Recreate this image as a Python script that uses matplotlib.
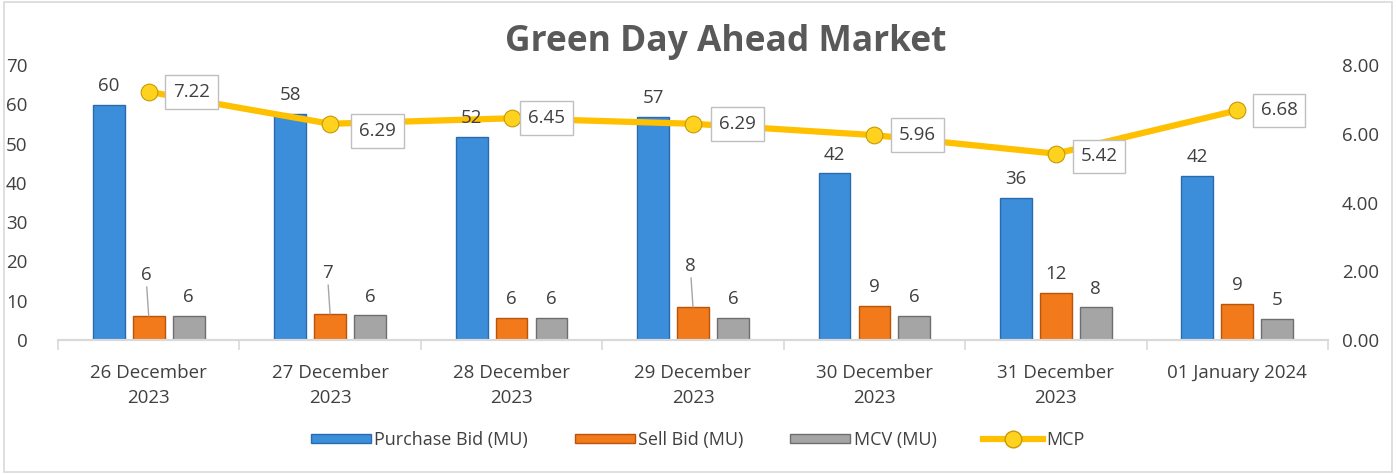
import matplotlib
matplotlib.use("Agg")
import matplotlib.pyplot as plt
import numpy as np
from matplotlib.patches import Rectangle
from matplotlib.lines import Line2D

plt.rcParams['font.family'] = ['Open Sans', 'DejaVu Sans']

categories = ["26 December\n2023", "27 December\n2023", "28 December\n2023", "29 December\n2023",
              "30 December\n2023", "31 December\n2023", "01 January 2024"]
purchase = [59.8, 57.6, 51.8, 56.8, 42.4, 36.1, 41.7]
sell = [6.1, 6.6, 5.6, 8.4, 8.7, 12.0, 9.2]
mcv = [6.1, 6.3, 5.7, 5.6, 6.2, 8.3, 5.4]
mcp = [7.22, 6.29, 6.45, 6.29, 5.96, 5.42, 6.68]
purchase_lbl = ["60", "58", "52", "57", "42", "36", "42"]
sell_lbl = ["6", "7", "6", "8", "9", "12", "9"]
mcv_lbl = ["6", "6", "6", "6", "6", "8", "5"]
mcp_lbl = ["7.22", "6.29", "6.45", "6.29", "5.96", "5.42", "6.68"]
sell_leader = [True, True, False, True, False, False, False]
mcp_off = [(31, 0), (34, -5), (25, 0), (32, 0), (31, 0), (31, -2), (30, 0)]

TXT = "#404040"
fig = plt.figure(figsize=(13.96, 4.74), dpi=100)
ax = fig.add_axes([58/1396, 1-340/474, (1328-58)/1396, (340-65)/474])
ax2 = ax.twinx()

x = np.arange(len(categories))
w = 0.175
gap = 0.22
blue, orange, gray = "#3C8DDA", "#F27A1A", "#A5A5A5"
ax.bar(x - gap, purchase, w, color=blue, edgecolor="#2A6BAE", linewidth=1.0, zorder=2)
ax.bar(x, sell, w, color=orange, edgecolor="#B8540C", linewidth=1.0, zorder=2)
ax.bar(x + gap, mcv, w, color=gray, edgecolor="#6E6E6E", linewidth=1.0, zorder=2)

ax2.plot(x, mcp, color="#FFC000", lw=4.5, zorder=3, marker="o", markersize=12,
         markerfacecolor="#FFD21F", markeredgecolor="#C79A00", markeredgewidth=0.8)

FS = 13.5
for i in range(len(x)):
    ax2.annotate(purchase_lbl[i], (x[i] - gap, purchase[i]), xycoords=ax.transData,
                 xytext=(0, 7), textcoords="offset points",
                 ha="center", va="bottom", fontsize=FS, color=TXT, zorder=6)
    ax2.annotate(mcv_lbl[i], (x[i] + gap, mcv[i]), xycoords=ax.transData,
                 xytext=(0, 7), textcoords="offset points",
                 ha="center", va="bottom", fontsize=FS, color=TXT, zorder=6)
    if sell_leader[i]:
        ax2.annotate(sell_lbl[i], (x[i], sell[i]), xycoords=ax.transData,
                     xytext=(-2, 23), textcoords="offset points",
                     ha="center", va="bottom", fontsize=FS, color=TXT, zorder=6,
                     arrowprops=dict(arrowstyle="-", color="#A6A6A6", lw=1, shrinkA=0, shrinkB=0))
    else:
        ax2.annotate(sell_lbl[i], (x[i], sell[i]), xycoords=ax.transData,
                     xytext=(0, 7), textcoords="offset points",
                     ha="center", va="bottom", fontsize=FS, color=TXT, zorder=6)

for i in range(len(x)):
    ax2.annotate(mcp_lbl[i], (x[i], mcp[i]), xytext=mcp_off[i], textcoords="offset points",
                 ha="center", va="center", fontsize=FS, color=TXT, zorder=7,
                 bbox=dict(boxstyle="square,pad=0.42", fc="white", ec="#BFBFBF", lw=1))

ax.set_xlim(-0.5, len(x) - 0.5)
ax.set_ylim(0, 70)
ax2.set_ylim(0, 8)
ax.set_yticks(range(0, 71, 10))
ax2.set_yticks(range(0, 9, 2))
ax2.set_yticklabels([f"{v:.2f}" for v in range(0, 9, 2)])
ax.set_xticks(x)
ax.set_xticklabels(categories, linespacing=1.55)
ax.set_xticks(np.arange(-0.5, len(x), 1), minor=True)
ax.tick_params(axis="x", which="major", length=0, pad=17, labelsize=FS, labelcolor=TXT)
ax.tick_params(axis="x", which="minor", length=7, color="#D9D9D9", width=1.2)
ax.tick_params(axis="y", length=0, labelsize=FS, labelcolor=TXT, pad=22)
ax2.tick_params(axis="y", length=0, labelsize=FS, labelcolor=TXT, pad=10)
for a in (ax, ax2):
    for s in ["top", "left", "right"]:
        a.spines[s].set_visible(False)
    a.spines["bottom"].set_color("#D9D9D9")
    a.spines["bottom"].set_linewidth(1.5)

fig.text(726/1396, 1 - 42/474, "Green Day Ahead Market", ha="center", va="center",
         fontsize=25.5, fontweight="bold", color="#595959")

handles = [Rectangle((0, 0), 1, 1, fc=blue, ec="#2A6BAE"),
           Rectangle((0, 0), 1, 1, fc=orange, ec="#B8540C"),
           Rectangle((0, 0), 1, 1, fc=gray, ec="#6E6E6E"),
           Line2D([], [], color="#FFC000", lw=4.5, marker="o", markersize=12,
                  markerfacecolor="#FFD21F", markeredgecolor="#C79A00")]
fig.legend(handles, ["Purchase Bid (MU)", "Sell Bid (MU)", "MCV (MU)", "MCP"],
           loc="center", bbox_to_anchor=(0.5, 1 - 440/474), ncol=4, frameon=False,
           fontsize=13, labelcolor=TXT, handlelength=3.3, handleheight=0.45,
           columnspacing=2.6, handletextpad=0.2)

fig.add_artist(Rectangle((0.003, 0.004), 0.994, 0.992, transform=fig.transFigure,
                         fill=False, ec="#D9D9D9", lw=1.2))
fig.savefig("out.png", dpi=100)
